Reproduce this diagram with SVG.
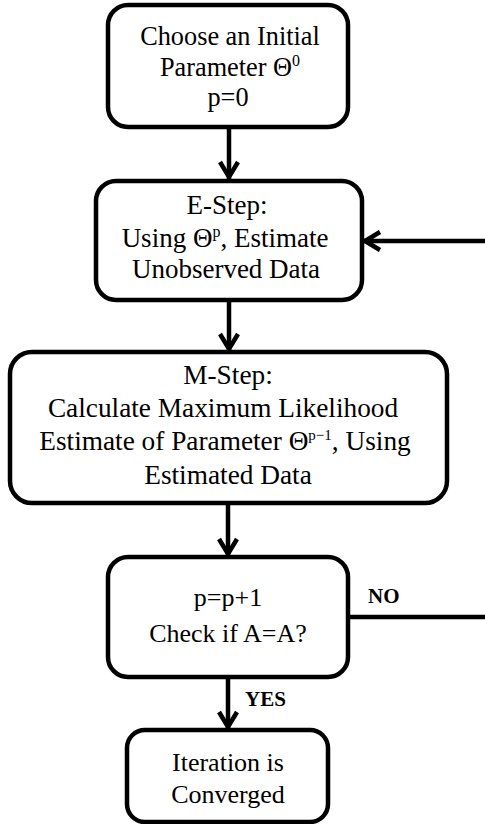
<svg xmlns="http://www.w3.org/2000/svg" width="485" height="824" viewBox="0 0 485 824">
<style>
.box{fill:#fff;stroke:#000;stroke-width:4.5}
.c{stroke:#000;stroke-width:4.5;fill:none}
</style>
<defs>
<marker id="ah" markerUnits="userSpaceOnUse" markerWidth="30" markerHeight="30" viewBox="-22 -15 30 30" refX="0" refY="0" orient="auto">
<path d="M -17 -9 L -2 0 L -17 9" fill="none" stroke="#000" stroke-width="4.5" stroke-linejoin="miter"/>
</marker>
</defs>
<rect width="485" height="824" fill="#fff"/>
<g id="connectors">
<line class="c" x1="229" y1="127" x2="229" y2="179" marker-end="url(#ah)"/>
<line class="c" x1="229" y1="300" x2="229" y2="351" marker-end="url(#ah)"/>
<line class="c" x1="228" y1="503" x2="228" y2="556" marker-end="url(#ah)"/>
<line class="c" x1="228" y1="677" x2="228" y2="729" marker-end="url(#ah)"/>
<line class="c" x1="485" y1="241" x2="363" y2="241" marker-end="url(#ah)"/>
<line class="c" x1="348" y1="617" x2="485" y2="617" stroke-width="3.5"/>
<text x="368" y="603" font-family="Liberation Serif" font-size="21" font-weight="bold">NO</text>
<text x="245" y="706" font-family="Liberation Serif" font-size="21" font-weight="bold">YES</text>
</g>
<g id="init">
<rect class="box" x="108" y="5" width="240" height="122" rx="20"/>
<g font-family="Liberation Serif" font-size="26.3" text-anchor="middle">
<text x="230" y="45">Choose an Initial</text>
<text x="230" y="76">Parameter Θ<tspan font-size="16" dy="-10">0</tspan></text>
<text x="228" y="106">p=0</text>
</g>
</g>
<g id="estep">
<rect class="box" x="96" y="181" width="266" height="119" rx="20"/>
<g font-family="Liberation Serif" font-size="27" text-anchor="middle">
<text x="227" y="214">E-Step:</text>
<text x="225" y="247">Using Θ<tspan font-size="16" dy="-10">p</tspan><tspan dy="10">, Estimate</tspan></text>
<text x="226" y="278">Unobserved Data</text>
</g>
</g>
<g id="mstep">
<rect class="box" x="10" y="352" width="437" height="151" rx="22"/>
<g font-family="Liberation Serif" font-size="27.3" text-anchor="middle">
<text x="228" y="384">M-Step:</text>
<text x="223" y="417">Calculate Maximum Likelihood</text>
<text x="225" y="450">Estimate of Parameter Θ<tspan font-size="15" dy="-10">p−1</tspan><tspan dy="10">, Using</tspan></text>
<text x="228" y="484">Estimated Data</text>
</g>
</g>
<g id="check">
<rect class="box" x="108" y="557" width="240" height="120" rx="20"/>
<g font-family="Liberation Serif" font-size="26" text-anchor="middle">
<text x="228" y="606">p=p+1</text>
<text x="228" y="642">Check if A=A?</text>
</g>
</g>
<g id="converged">
<rect class="box" x="127" y="730" width="201" height="92" rx="18"/>
<g font-family="Liberation Serif" font-size="26" text-anchor="middle">
<text x="228" y="771">Iteration is</text>
<text x="228" y="803">Converged</text>
</g>
</g>
</svg>
